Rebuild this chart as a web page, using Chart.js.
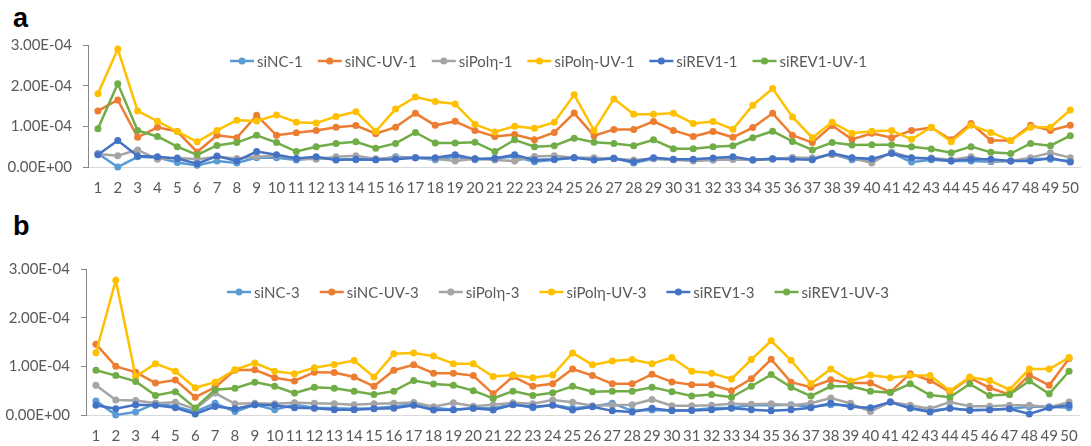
<!DOCTYPE html>
<html>
<head>
<meta charset="utf-8">
<script src="https://cdn.jsdelivr.net/npm/chart.js@4.4.0/dist/chart.umd.min.js"></script>
<style>
    body { margin: 0; background: #fff; width: 1091px; height: 446px; position: relative; overflow: hidden; }
    .panel { position: absolute; left: 0; }
    .tag { position: absolute; left: 13px; font: bold 27px "Liberation Sans", Arial, sans-serif; line-height: 27px; color: #000; }
</style>
</head>
<body>
<div class="tag" style="top:5px">a</div>
<div class="tag" style="top:213px">b</div>
<div class="panel" style="top:0"><canvas id="chartA" width="1091" height="213"></canvas></div>
<div class="panel" style="top:200px"><canvas id="chartB" width="1091" height="259"></canvas></div>
<script>
// values are in units of 1E-05 (the axis labels convert back)
const UNIT = 1e-5;

const positions = ['1','2','3','4','5','6','7','8','9','10','11','12','13','14','15','16','17','18','19','20',
    '21','22','23','24','25','26','27','28','29','30','31','32','33','34','35','36','37','38','39','40',
    '41','42','43','44','45','46','47','48','49','50'];

// panel a
const namesA = ['siNC-1', 'siNC-UV-1', 'siPolη-1', 'siPolη-UV-1', 'siREV1-1', 'siREV1-UV-1'];
const siNC_1 = [3.3,0,2.5,2.3,1.1,0.4,1.5,1,2.3,2.3,1.7,2.2,1.9,1.8,1.8,2.5,2.3,1.8,2.5,1.8,2.2,2.5,1.3,1.8,2.3,
    2.1,2.2,1,2,1.8,1.8,1.7,1.9,1.8,2,2.3,2,3.2,1.8,1.7,3.5,1.2,1.8,1.5,1.5,1.3,1.5,2,1.9,1.5];
const siNC_UV_1 = [13.8,16.5,7.3,9.75,8.7,3.7,7.8,7.2,12.7,7.8,8.4,9,9.8,10.2,8.2,9.8,13.2,10.25,11.25,9,7.5,8,6.7,8.5,13.25,
    7.7,9.25,9.25,11.2,9,7.5,8.75,7.3,9.7,13.2,7.8,6,10.2,6.8,8.3,7.2,9,9.7,6.7,10.7,6.5,6.5,10.25,9,10.25];
const siPol_1 = [3.2,2.75,4.2,1.9,2.3,1.9,2.5,2.1,2.5,2.75,2.1,1.9,2.5,2.75,2,2.25,2.3,2,1.5,2,1.7,1.5,2.6,2.75,2.3,
    2.3,2,1.7,2,1.8,1.5,1.7,1.9,1.7,1.9,2.3,2.3,3,2.2,1,3.7,2.2,2.2,1.8,2.5,1.5,1.5,2.3,3.5,2.3];
const siPol_UV_1 = [18,29,13.8,11.25,8.7,6.2,9,11.5,11.3,12.8,11,10.8,12.4,13.6,8.8,14.25,17.2,16.1,15.5,10.5,8.6,10,9.5,11,17.75,
    9,16.75,13,13,13.2,10.7,11.2,9.3,15.2,19.3,12.3,7.2,11,8.3,8.8,9,6.8,9.8,6.2,10.25,8.5,6.5,9.8,9.8,14];
const siREV1_1 = [3,6.5,2.7,2.5,2.1,0.8,2.7,1.5,3.8,3,2.1,2.5,1.7,1.9,1.8,1.9,2.3,2.25,3,2,2.1,3,1.7,1.9,2.3,
    1.7,2.1,1.3,2.25,1.9,1.9,2.2,2.5,1.7,2,1.9,1.8,3.4,2.3,2,3.3,2.3,2,1.5,1.9,1.9,1.5,1.5,2.2,1.2];
const siREV1_UV_1 = [9.4,20.5,9,7.5,5,3,5.3,6,7.8,6,3.8,5,5.8,6.2,4.6,5.8,8.5,5.9,5.9,6.1,3.8,6.7,5,5.25,7.1,
    6.1,5.8,5.25,6.7,4.5,4.5,5,5.25,7.2,8.8,6.3,4.2,6,5.4,5.5,5.5,5,4.4,3.5,5,3.6,3.3,5.8,5.25,7.7];

// panel b
const namesB = ['siNC-3', 'siNC-UV-3', 'siPolη-3', 'siPolη-UV-3', 'siREV1-3', 'siREV1-UV-3'];
const siNC_3 = [2.9,0,0.6,2.4,1.75,0.7,2.4,0.7,2.1,1.1,2.1,1.5,1.4,1.3,1.4,1.75,2.2,1.5,1.1,1.4,1.4,2.2,1.5,2.1,1.4,
    1.75,2.4,0.85,1.05,0.85,1.05,1.4,1.5,2,2,2.1,1.7,2.1,2,1.05,2.65,1.5,0.85,1.4,1,1.1,1.3,1.7,1.7,1.5];
const siNC_UV_3 = [14.55,10,8.8,6.55,7.2,3.65,5.7,9.2,9.3,7.65,7,8.8,8.75,7.8,5.9,9.2,10.3,8.6,8.6,8.1,4.35,7.9,5.9,6.4,9.45,
    8.1,6.4,6.4,8.35,6.8,6.2,6.2,5,7.45,11.45,6.75,5.7,7.25,6.55,6.55,4.7,8.5,7.1,4.7,7.65,5.6,4.2,8.2,6.1,11.6];
const siPol_3 = [6.1,3.1,3,2.4,2.6,1.2,4.5,2.3,2.4,2.3,2.5,2.4,2.3,2.1,2.3,2.4,2.55,1.7,2.5,1.8,2.1,2.5,2.3,3.1,2.6,
    1.9,2,2.1,3.2,1.9,1.9,2,2.3,2.2,2.3,2,2.4,3.5,2.4,0.7,2.65,2,1.3,2.65,1.8,1.8,2,2,1.6,2.65];
const siPol_UV_3 = [12.8,27.7,7.9,10.55,9,5.6,6.75,9.3,10.7,9,8.5,9.7,10.4,11.2,7.8,12.6,12.75,12.1,10.55,10.55,7.9,8.2,7.65,8.2,12.75,
    10.3,11.1,11.4,10.55,11.8,9,8.6,7.4,11.4,15.25,11.25,6.4,9.45,7,8.2,7.65,8.1,8.1,5,7.8,7.1,5.2,9.45,9.45,11.8];
const siREV1_3 = [2,1.3,2.1,2,1.5,0.2,1.75,1.3,2.1,2,1.5,1.4,1.1,1.1,1.3,1.4,2,1.05,1.1,1.4,1.05,2.1,1.7,2,1.05,
    1.7,0.85,0.6,1.4,0.9,0.9,1.1,1.4,1.1,0.85,1.1,1.5,2.4,1.7,1.5,2.65,1.4,0.6,1.4,1,1.1,1.3,0.2,1.5,2];
const siREV1_UV_3 = [9.2,8.1,6.9,4,4.8,1.45,5.2,5.5,6.75,5.9,4.5,5.7,5.5,4.9,4.2,4.9,7.1,6.35,6.1,5,3.4,4.9,4,4.55,5.9,
    4.8,4.9,4.9,5.7,4.8,3.9,4.2,3.65,5.9,8.3,5.7,3.9,5.9,5.9,4.9,4.6,6.4,4.1,3.65,6.4,4,4.2,7,4.35,9];

const colors = ['#5B9BD5', '#ED7D31', '#A5A5A5', '#FFC000', '#4472C4', '#70AD47'];
const FONT = { family: 'Lato, "Liberation Sans", sans-serif', size: 15 };
const TEXT = '#595959';

// "1.00E-04" style labels like the spreadsheet
function sci(v) {
    const [m, e] = v.toExponential(2).split('e');
    const n = Math.abs(Number(e));
    return m + 'E' + (Number(e) < 0 ? '-' : '+') + String(n).padStart(2, '0');
}

// legend sits inside the plot, as in the spreadsheet: line + dot sample, then the name
const sheetLegend = {
    id: 'sheetLegend',
    afterDraw(chart, args, opts) {
        const ctx = chart.ctx;
        ctx.save();
        ctx.font = FONT.size + 'px ' + FONT.family;
        ctx.textBaseline = 'middle';
        let x = opts.x;
        const y = opts.y;
        chart.data.datasets.forEach(ds => {
            ctx.strokeStyle = ds.borderColor;
            ctx.lineWidth = 2.5;
            ctx.beginPath(); ctx.moveTo(x, y); ctx.lineTo(x + 24, y); ctx.stroke();
            ctx.fillStyle = ds.borderColor;
            ctx.beginPath(); ctx.arc(x + 12, y, 3.5, 0, Math.PI * 2); ctx.fill();
            ctx.fillStyle = TEXT;
            ctx.fillText(ds.label, x + 27, y + 1);
            x += 27 + ctx.measureText(ds.label).width + opts.gap;
        });
        ctx.restore();
    }
};

function makeChart(id, names, series, axisWidth, padRight, padTop, padBottom, legend) {
    const ctx = document.getElementById(id).getContext('2d');
    return new Chart(ctx, {
        type: 'line',
        data: {
            labels: positions,
            datasets: series.map((s, i) => ({
                label: names[i],
                data: s,
                borderColor: colors[i],
                backgroundColor: colors[i],
                borderWidth: 2.5,
                pointRadius: 3.5,
                pointBorderWidth: 0,
                pointHoverRadius: 3.5,
                tension: 0,
                clip: false,
                order: series.length - i   // later series on top, like Excel
            }))
        },
        plugins: [sheetLegend],
        options: {
            responsive: false,
            animation: false,
            layout: { padding: { left: 0, right: padRight, top: padTop, bottom: padBottom } },
            plugins: {
                legend: { display: false },
                tooltip: { enabled: false },
                sheetLegend: legend
            },
            scales: {
                x: {
                    offset: true,
                    grid: { display: false, drawTicks: false },
                    border: { display: true, color: '#D9D9D9', width: 1 },
                    ticks: { color: TEXT, font: FONT, autoSkip: false, maxRotation: 0, padding: 12 }
                },
                y: {
                    min: 0,
                    max: 30,
                    afterFit(scale) { scale.width = axisWidth; },
                    grid: { drawOnChartArea: false, drawTicks: true, tickLength: 5, color: '#868686' },
                    border: { display: true, color: '#868686', width: 1 },
                    ticks: {
                        stepSize: 10,
                        color: TEXT,
                        font: FONT,
                        padding: 11,
                        callback: v => sci(v * UNIT)
                    }
                }
            }
        }
    });
}

makeChart('chartA', namesA, [siNC_1, siNC_UV_1, siPol_1, siPol_UV_1, siREV1_1, siREV1_UV_1],
    88, 3, 45, 4, { x: 230, y: 61, gap: 15 });
makeChart('chartB', namesB, [siNC_3, siNC_UV_3, siPol_3, siPol_UV_3, siREV1_3, siREV1_UV_3],
    86, 12, 69, 2, { x: 227, y: 92, gap: 20 });
</script>
</body>
</html>
